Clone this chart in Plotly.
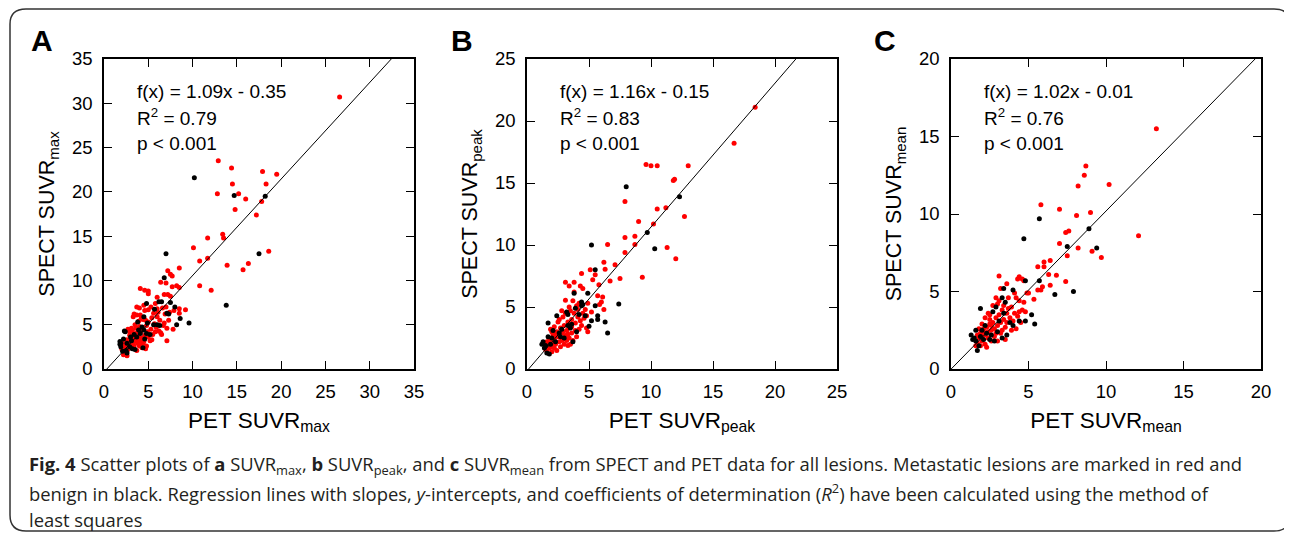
import plotly.graph_objects as go

# ---------------- data ----------------
panel_letters = ["A", "B", "C"]
axis_max = [35, 25, 20]
tick_step = [5, 5, 5]
x_titles = ["PET SUVR<sub>max</sub>", "PET SUVR<sub>peak</sub>", "PET SUVR<sub>mean</sub>"]
y_titles = ["SPECT SUVR<sub>max</sub>", "SPECT SUVR<sub>peak</sub>", "SPECT SUVR<sub>mean</sub>"]
slopes = [1.09, 1.16, 1.02]
intercepts = [-0.35, -0.15, -0.01]
fit_text = ["f(x) = 1.09x - 0.35", "f(x) = 1.16x - 0.15", "f(x) = 1.02x - 0.01"]
r2_text = ["R<sup>2</sup> = 0.79", "R<sup>2</sup> = 0.83", "R<sup>2</sup> = 0.76"]
p_text = ["p < 0.001", "p < 0.001", "p < 0.001"]

# Panel A: SUVR max (PET x, SPECT y)
a_red = [(26.6,30.7),(12.9,23.5),(14.4,22.7),(17.9,22.3),(19.5,22.0),(14.5,20.9),(18.3,20.9),
         (12.8,19.8),(15.2,19.8),(16.0,19.2),(17.8,18.9),(14.8,18.0),(17.2,17.4),(11.7,14.8),
         (13.4,15.2),(13.5,14.8),(18.6,13.3),(10.1,13.7),(10.8,12.2),(11.7,12.5),(13.9,11.7),
         (16.3,11.9),(15.7,11.2),(8.5,11.4),(7.2,11.1),(7.5,10.7),(10.8,9.4),(12.1,8.9),
         (7.0,9.7),(7.7,9.3),(8.2,9.4),(8.5,9.2),(4.1,9.1),(4.6,8.9),(5.0,8.8),(5.0,8.5),
         (6.4,9.8),(6.8,8.4),(7.2,8.4),(7.5,8.2),(6.0,8.1),(9.2,6.7),(8.5,6.8),(7.9,6.6),
         (8.5,6.3),(7.7,10.5),(3.7,7.0),(4.0,6.9),(4.5,7.2),(4.1,6.1),(5.0,6.7),(4.6,6.6),
         (5.6,6.3),(6.0,5.9),(6.3,5.5),(5.7,5.1),(6.7,4.9),(7.1,4.6),(7.8,4.5),(7.1,3.2),
         (5.8,4.2),(6.5,3.9),(5.2,3.2),(4.7,2.3),(3.3,5.9),(3.1,4.6),(3.4,6.2),(3.7,6.1),
         (4.2,5.7),(4.5,5.8),(4.7,5.5),(6.6,6.9),(7.0,7.0),(6.9,6.2),(7.4,6.4),(6.0,6.8),
         (5.4,5.8),(5.0,5.3),(4.4,5.6),(3.9,5.4),(4.8,4.9),(5.3,4.5),(5.9,4.7),(6.2,4.3),
         (4.2,4.3),(3.6,4.0),(3.9,3.7),(4.3,3.5),(4.6,3.8),(5.0,3.6),(5.5,3.9),(3.4,3.5),
         (2.9,3.8),(2.6,3.3),(2.8,3.0),(3.0,2.7),(3.3,3.0),(3.6,3.2),(3.8,2.9),(4.1,3.1),
         (4.4,2.9),(2.3,2.8),(2.5,2.5),(2.7,2.2),(2.4,1.9),(2.2,1.6),(2.6,1.5),(3.1,2.4),
         (3.4,2.6),(4.0,2.6),(4.5,3.1),(2.0,2.3),(2.1,3.0),(2.9,4.2),(3.2,4.3),(3.6,4.6),
         (4.0,4.8),(3.5,5.0),(2.7,4.5),(4.9,4.2),(5.4,3.3),(4.8,2.6),(3.7,2.1),(6.8,5.2),
         (7.3,5.5),(6.4,4.1),(5.3,7.0),(5.8,7.4),(6.1,6.4),(2.3,2.3),(2.8,2.6),(3.0,3.3),
         (3.9,3.3),(4.3,2.4)]
a_black = [(10.2,21.6),(14.7,19.6),(18.2,19.5),(7.0,13.0),(17.5,13.0),(13.8,7.2),
           (6.8,10.3),(8.0,7.0),(7.5,7.5),(6.5,7.6),(6.2,7.6),(9.6,5.2),(8.6,5.7),(8.2,5.0),
           (4.8,7.4),(3.8,5.3),(7.1,6.3),(1.8,3.1),(1.8,2.8),(1.9,2.5),(2.4,4.2),(2.5,2.1),
           (2.6,1.8),(3.2,2.3),(3.5,2.2),(4.3,4.75),(4.5,4.4),(4.8,4.0),(3.7,3.6),(3.1,3.2),
           (5.7,6.75),(6.0,5.0),(6.3,4.9),(7.3,6.2),(4.5,5.9),(4.9,5.2),(2.2,3.4),(2.6,2.9),
           (2.9,2.5),(3.4,3.9),(4.1,4.0),(4.6,3.4),(5.2,3.9),(2.1,2.0),(2.3,4.3),(3.9,4.4),
           (4.4,2.4),(3.0,3.6),(1.9,2.9),(5.6,5.0)]

# Panel B: SUVR peak
b_red = [(18.4,21.1),(16.7,18.2),(9.6,16.5),(10.0,16.4),(10.5,16.4),(13.0,16.4),(11.8,15.2),
         (11.9,15.3),(7.9,13.5),(11.2,13.0),(10.5,12.9),(12.7,12.3),(9.0,11.9),(10.2,11.7),
         (7.9,10.6),(8.7,10.7),(8.7,10.05),(11.3,9.8),(7.9,9.4),(12.0,8.9),(9.3,7.4),(6.5,10.05),
         (7.1,8.4),(6.2,8.6),(6.3,8.05),(5.5,7.6),(5.1,8.0),(5.3,7.2),(5.8,6.8),(6.7,7.1),
         (7.5,7.3),(4.4,7.7),(3.8,7.0),(3.1,7.0),(3.4,6.7),(4.3,6.7),(4.5,6.5),(3.8,6.2),
         (3.1,5.55),(6.1,5.8),(5.7,5.9),(6.0,5.4),(5.85,5.2),(6.2,4.8),(4.9,3.0),(4.8,4.3),
         (4.0,5.1),
         (1.5,1.6),(1.7,1.9),(1.9,2.2),(2.0,1.8),(2.2,2.4),(2.3,2.0),(2.5,2.6),(2.6,2.2),
         (2.8,2.9),(2.9,2.4),(3.1,2.7),(3.2,3.1),(3.4,2.5),(3.6,2.9),(3.0,3.5),(2.7,3.3),
         (2.4,3.0),(2.1,2.8),(1.8,2.5),(1.6,2.2),(2.2,3.4),(2.5,3.8),(2.9,4.2),(3.3,3.8),
         (3.6,3.4),(3.9,3.7),(4.1,4.2),(3.8,4.5),(3.5,4.7),(3.1,4.5),(4.3,3.9),(4.5,4.5),
         (4.7,4.8),(4.2,5.3),(3.4,5.0),(2.8,4.7),(3.7,2.3),(3.3,1.9),(2.7,1.8),(2.4,1.5),
         (2.0,1.4),(1.9,3.2),(2.6,4.0),(3.0,2.0),(3.9,3.1),(4.4,3.5),(4.0,2.6),(2.3,2.7),
         (1.6,1.5),(3.5,2.0),(4.8,3.3),(2.9,3.0),(3.2,2.3),(2.1,2.1),(1.8,1.7),(2.5,2.9),
         (3.6,4.0),(4.1,4.8),(4.6,4.1),(3.7,5.5),(4.9,5.3),(5.2,4.6),(2.2,1.7),(2.8,2.3),
         (3.3,2.8),(2.0,3.0),(3.4,3.3),(4.2,3.2)]
b_black = [(8.0,14.7),(12.3,13.9),(9.7,11.0),(10.3,9.7),(5.2,10.0),(7.4,5.25),(5.5,8.0),
           (4.9,6.1),(3.8,6.1),(4.4,5.4),(4.4,5.1),(4.5,5.2),(5.5,5.1),(5.7,4.3),(5.7,4.0),
           (6.3,3.8),(6.5,2.9),(5.0,3.45),(5.2,3.9),(4.7,4.3),(1.7,3.7),(1.2,2.0),(1.8,1.2),
           (1.3,2.2),(1.5,1.9),(1.6,1.3),(1.4,1.7),(2.0,2.5),(2.3,2.2),(2.6,2.9),(2.8,3.2),
           (3.0,2.5),(3.3,4.4),(3.2,4.6),(3.5,3.3),(2.4,4.3),(3.7,2.2),(2.1,3.1),(1.9,2.0),
           (3.6,3.6),(3.3,3.5),(4.0,3.0),(2.7,2.6),(1.7,2.6),(3.9,4.9),(4.2,4.4)]

# Panel C: SUVR mean
c_red = [(13.25,15.5),(8.7,13.1),(8.6,12.5),(8.2,11.8),(10.2,11.9),(5.8,10.6),(7.0,10.3),
         (8.1,9.9),(9.0,10.1),(7.6,8.9),(7.4,8.8),(12.1,8.6),(7.0,8.1),(8.2,7.8),(7.5,7.3),
         (9.1,7.6),(9.7,7.2),(6.4,7.0),(6.0,6.9),(6.0,6.6),(5.6,6.6),(6.3,6.1),(6.8,6.05),
         (7.4,5.65),(6.4,5.4),(5.9,5.3),(5.6,5.1),(5.8,5.1),(3.1,6.0),(5.35,4.5),(4.9,4.9),
         (4.7,5.7),(4.4,5.95),
         (1.6,1.5),(1.8,2.0),(1.9,2.3),(2.0,1.8),(2.1,2.6),(2.2,2.2),(2.3,2.7),(2.4,2.4),
         (2.5,2.9),(2.6,2.5),(2.7,3.0),(2.8,2.6),(2.9,3.3),(3.0,2.8),(3.1,3.5),(3.2,3.0),
         (3.3,3.8),(3.4,3.2),(3.5,2.7),(3.6,3.6),(3.7,3.9),(3.8,3.3),(3.9,2.5),(4.0,3.1),
         (4.1,3.6),(4.2,2.6),(4.3,3.4),(4.5,3.0),(4.6,3.8),(4.8,3.7),(4.4,4.4),(4.1,4.9),
         (3.7,4.6),(3.4,4.1),(3.1,4.4),(2.9,4.6),(3.0,4.2),(2.7,4.1),(2.5,3.5),(2.2,3.3),
         (2.0,2.9),(1.8,2.6),(1.7,2.2),(2.4,2.0),(2.8,2.1),(3.2,2.3),(3.5,1.9),(3.0,1.8),
         (2.6,1.8),(2.2,1.6),(1.9,1.5),(2.5,3.2),(3.3,2.5),(2.1,2.4),(4.7,4.3),(3.6,5.5),
         (3.2,5.2),(4.3,5.8),(4.6,5.8),(5.0,4.9),(4.2,4.6),(3.9,4.0),(2.3,1.4),(1.7,1.7),
         (2.0,2.1),(2.6,2.8),(2.9,2.3),(3.6,3.0),(4.4,3.7),(2.4,3.6)]
c_black = [(5.7,9.7),(4.7,8.4),(8.9,9.05),(7.5,7.9),(9.4,7.8),(7.9,5.0),(6.7,4.8),(5.7,5.7),
           (4.8,5.7),(3.4,5.2),(4.0,5.1),(5.2,3.5),(5.4,2.9),(4.8,3.1),
           (1.3,2.2),(1.4,1.9),(1.5,2.0),(1.6,1.8),(1.7,1.2),(1.8,1.5),(1.9,2.1),(1.9,3.9),
           (2.0,2.5),(2.1,1.9),(2.3,2.3),(2.5,1.9),(2.6,2.2),(2.7,3.7),(2.8,1.8),(3.0,2.4),
           (3.1,3.1),(3.3,2.0),(3.4,3.6),(3.5,4.3),(3.3,4.6),(3.8,3.0),(4.0,2.8),(1.6,2.5),
           (2.2,2.8),(2.9,4.0),(3.6,2.2),(4.4,3.1)]

red_sets = [a_red, b_red, c_red]
black_sets = [a_black, b_black, c_black]

# ---------------- layout geometry (page pixels) ----------------
PAGE_OFF = 8                      # default body margin of the html page
W, H = 1292 - PAGE_OFF, 538 - PAGE_OFF
plot_left = [104, 527, 951]
plot_w = 310
plot_top, plot_bottom = 59, 369
letter_x = [42, 462, 885]

def px(x):
    return (x - PAGE_OFF) / W

def py(y):
    return 1 - (y - PAGE_OFF) / H

fig = go.Figure()
font_main = "Liberation Sans, Arial, Helvetica, sans-serif"

for i in range(3):
    n = "" if i == 0 else str(i + 1)
    xa, ya = "x" + n, "y" + n
    for pts, col in ((red_sets[i], "#ff0000"), (black_sets[i], "#000000")):
        fig.add_trace(go.Scatter(
            x=[p[0] for p in pts], y=[p[1] for p in pts], mode="markers",
            marker=dict(size=5, color=col, line=dict(width=0)),
            xaxis=xa, yaxis=ya, showlegend=False, hoverinfo="x+y"))
    s, b, m = slopes[i], intercepts[i], axis_max[i]
    x0 = max(0.0, -b / s)
    x1 = min(m, (m - b) / s)
    fig.add_trace(go.Scatter(
        x=[x0, x1], y=[s * x0 + b, s * x1 + b], mode="lines",
        line=dict(color="black", width=1), xaxis=xa, yaxis=ya,
        showlegend=False, hoverinfo="skip"))

    ticks = list(range(0, axis_max[i] + 1, tick_step[i]))
    common = dict(range=[0, axis_max[i]], tickvals=ticks, ticktext=[str(t) for t in ticks],
                  showgrid=False, zeroline=False, showline=True, linecolor="black",
                  linewidth=1.5, mirror="allticks", ticks="inside", ticklen=8,
                  tickwidth=1, tickcolor="black", automargin=False,
                  tickfont=dict(family=font_main, size=18.5, color="black"))
    fig.update_layout(**{
        "xaxis" + n: dict(common, domain=[px(plot_left[i]), px(plot_left[i] + plot_w)],
                          anchor=ya, ticklabelstandoff=5,
                          title=dict(text=x_titles[i], standoff=11,
                                     font=dict(family=font_main, size=22.5, color="black"))),
        "yaxis" + n: dict(common, domain=[py(plot_bottom), py(plot_top)],
                          anchor=xa, ticklabelstandoff=6,
                          title=dict(text=y_titles[i], standoff=11,
                                     font=dict(family=font_main, size=21.5, color="black"))),
    })

    for k, (txt, yy) in enumerate(zip([fit_text[i], r2_text[i], p_text[i]], [92, 117, 143])):
        fig.add_annotation(x=px(plot_left[i] + 31), y=py(yy), xref="paper", yref="paper",
                           text=txt, showarrow=False, xanchor="left", yanchor="middle",
                           font=dict(family=font_main, size=19, color="black"))
    fig.add_annotation(x=px(letter_x[i]), y=py(41), xref="paper", yref="paper",
                       text="<b>%s</b>" % panel_letters[i], showarrow=False,
                       xanchor="center", yanchor="middle",
                       font=dict(family=font_main, size=30, color="black"))

caption_lines = [
    "<b>Fig. 4</b> Scatter plots of <b>a</b> SUVR<sub>max</sub>, <b>b</b> SUVR<sub>peak</sub>, "
    "and <b>c</b> SUVR<sub>mean</sub> from SPECT and PET data for all lesions. Metastatic lesions "
    "are marked in red and",
    "benign in black. Regression lines with slopes, <i>y</i>-intercepts, and coefficients of "
    "determination (<i>R</i><sup>2</sup>) have been calculated using the method of",
    "least squares",
]
for txt, yy in zip(caption_lines, [465, 492, 519]):
    fig.add_annotation(x=px(27), y=py(yy), xref="paper", yref="paper", text=txt,
                       showarrow=False, xanchor="left", yanchor="middle",
                       font=dict(family="Open Sans, Noto Sans, sans-serif", size=18.4,
                                 color="#231f20"))

L, R, T, B, r = 10, 1290, 8, 531, 16
path = ("M {a} {b} L {c} {b} Q {d} {b} {d} {e} L {d} {f} Q {d} {g} {c} {g} "
        "L {a} {g} Q {h} {g} {h} {f} L {h} {e} Q {h} {b} {a} {b} Z").format(
    a=px(L + r), b=py(T + 1), c=px(R - r), d=px(R), e=py(T + r), f=py(B - r), g=py(B), h=px(L))
fig.add_shape(type="path", path=path, xref="paper", yref="paper",
              line=dict(color="#333333", width=1.5), fillcolor="rgba(0,0,0,0)")

fig.update_layout(width=W, height=H, margin=dict(l=0, r=0, t=0, b=0, pad=0),
                  template="none",
                  paper_bgcolor="white", plot_bgcolor="white", showlegend=False)

fig.write_html("out.html")
